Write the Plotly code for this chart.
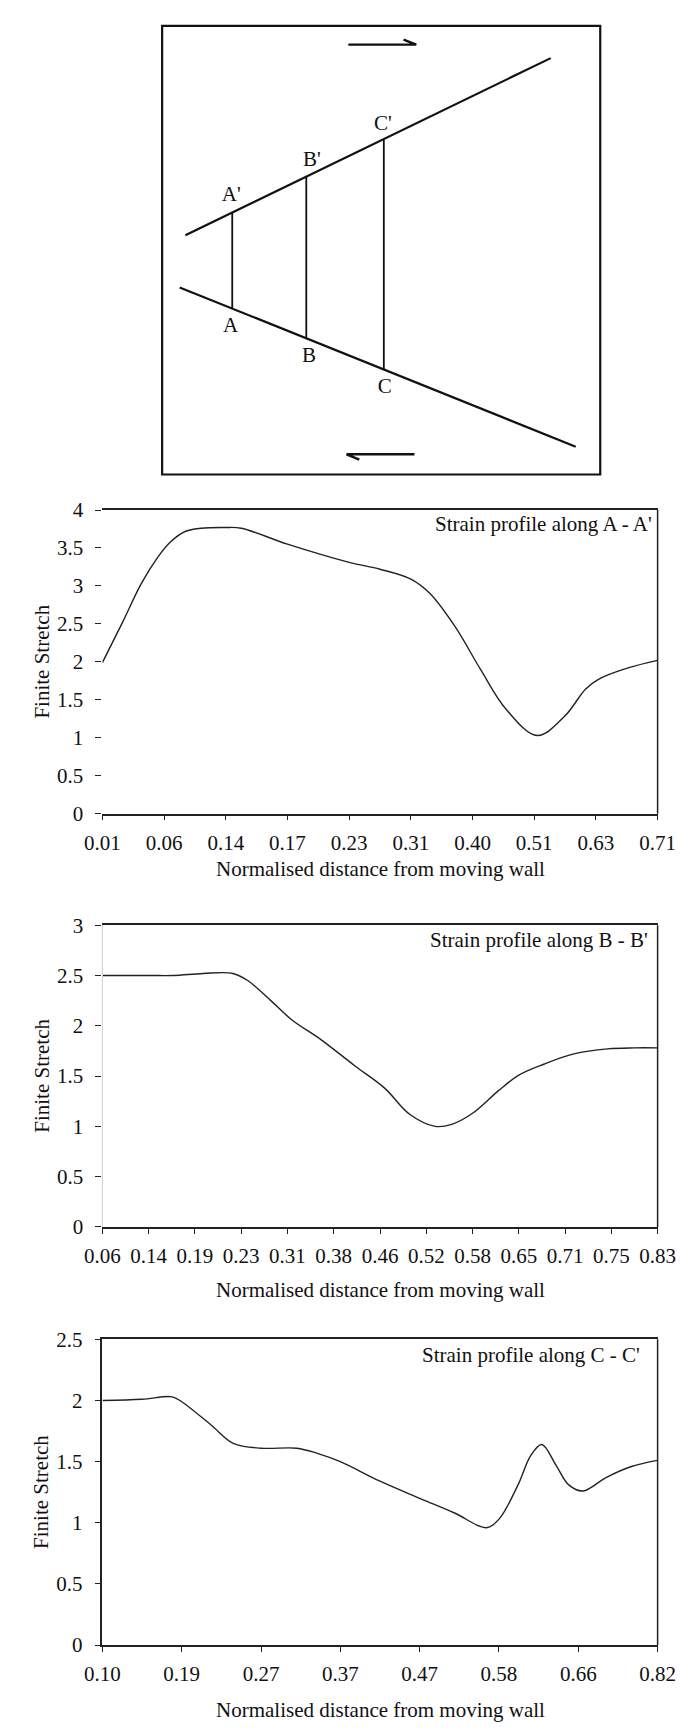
import plotly.graph_objects as go

W, H = 696, 1733
FONT = "Liberation Serif"
FS = 21

# ---------------- Schematic (normalised box units, origin bottom-left) ----------------
upper_u = [0.053, 0.887]
upper_v = [0.533, 0.928]
lower_u = [0.040, 0.944]
lower_v = [0.417, 0.062]
section_u = [0.160, 0.329, 0.506]
section_top_v = [0.584, 0.664, 0.746]
section_bot_v = [0.371, 0.305, 0.234]
label_text = ["A'", "B'", "C'", "A", "B", "C"]
label_u = [0.158, 0.342, 0.504, 0.156, 0.335, 0.508]
label_v = [0.622, 0.700, 0.780, 0.329, 0.263, 0.194]
arrow_top_u = [0.551, 0.580, 0.425]
arrow_top_v = [0.969, 0.958, 0.958]
arrow_bot_u = [0.450, 0.421, 0.576]
arrow_bot_v = [0.033, 0.045, 0.045]

# ---------------- Strain profile A - A' ----------------
a_ticklabels = ["0.01", "0.06", "0.14", "0.17", "0.23", "0.31", "0.40", "0.51", "0.63", "0.71"]
a_pos = [0, 0.32, 0.63, 0.89, 1.09, 1.35, 1.6, 2.0, 2.25, 3.0, 4.0, 4.5, 5.0, 5.31, 5.72,
         6.13, 6.54, 7.05, 7.5, 7.83, 8.04, 8.52, 9]
a_val = [1.99, 2.51, 3.03, 3.37, 3.57, 3.72, 3.76, 3.77, 3.76, 3.55, 3.31, 3.22, 3.09, 2.90, 2.46,
         1.90, 1.38, 1.03, 1.29, 1.64, 1.77, 1.92, 2.02]

# ---------------- Strain profile B - B' ----------------
b_ticklabels = ["0.06", "0.14", "0.19", "0.23", "0.31", "0.38", "0.46", "0.52", "0.58", "0.65",
                "0.71", "0.75", "0.83"]
b_pos = [0, 1, 1.54, 2.18, 2.82, 3.14, 3.64, 4.09, 4.73, 5.46, 6.1, 6.64, 7.19, 7.55, 8.0, 8.55,
         9.0, 9.55, 10.19, 10.92, 11.5, 12]
b_val = [2.5, 2.5, 2.5, 2.52, 2.52, 2.45, 2.25, 2.06, 1.86, 1.60, 1.38, 1.12, 1.00, 1.02, 1.13, 1.35,
         1.51, 1.62, 1.72, 1.77, 1.78, 1.78]

# ---------------- Strain profile C - C' ----------------
c_ticklabels = ["0.10", "0.19", "0.27", "0.37", "0.47", "0.58", "0.66", "0.82"]
c_pos = [0, 0.5, 0.88, 1.0, 1.37, 1.65, 2.0, 2.45, 2.7, 3.0, 3.5, 4.0, 4.44, 4.84, 5.0, 5.24,
         5.40, 5.54, 5.72, 5.88, 6.06, 6.35, 6.67, 7.0]
c_val = [2.00, 2.01, 2.03, 1.99, 1.80, 1.65, 1.61, 1.61, 1.57, 1.50, 1.34, 1.20, 1.08, 0.96, 1.03,
         1.31, 1.55, 1.64, 1.47, 1.31, 1.26, 1.37, 1.46, 1.51]

charts = [
    dict(labels=a_ticklabels, pos=a_pos, val=a_val, ymax=4, top=505, bottom=813,
         title="Strain profile along A - A'", title_y=519, title_x=671, xt_y=869, left="none"),
    dict(labels=b_ticklabels, pos=b_pos, val=b_val, ymax=3, top=926, bottom=1232,
         title="Strain profile along B - B'", title_y=941, title_x=666, xt_y=1296, left="grey"),
    dict(labels=c_ticklabels, pos=c_pos, val=c_val, ymax=2.5, top=1346, bottom=1656,
         title="Strain profile along C - C'", title_y=1362, title_x=658, xt_y=1722, left="black"),
]

PLOT_L, PLOT_R = 89, 674.5


def py(px):
    return 1 - px / H


fig = go.Figure()
layout = dict(
    width=W, height=H, autosize=False,
    margin=dict(l=0, r=0, t=0, b=0),
    paper_bgcolor="white", plot_bgcolor="white",
    showlegend=False,
    font=dict(family=FONT, size=FS, color="#111"),
)
shapes = []
annotations = []

for i, c in enumerate(charts):
    n = i + 1
    xa = "x" if n == 1 else f"x{n}"
    ya = "y" if n == 1 else f"y{n}"
    fig.add_trace(go.Scatter(
        x=c["pos"], y=c["val"], mode="lines", xaxis=xa, yaxis=ya,
        line=dict(color="#222", width=1.4, shape="spline", smoothing=1.0),
        hoverinfo="skip", cliponaxis=False,
    ))
    nlab = len(c["labels"])
    layout["xaxis" if n == 1 else f"xaxis{n}"] = dict(
        domain=[PLOT_L / W, PLOT_R / W], anchor=ya,
        range=[0, nlab - 1],
        tickmode="array", tickvals=list(range(nlab)), ticktext=c["labels"],
        ticks="outside", ticklen=5, tickcolor="#222", tickwidth=1.2,
        showline=True, mirror=True, linecolor="#222", linewidth=1.5,
        showgrid=False, zeroline=False,
        tickfont=dict(family=FONT, size=FS, color="#111"),
        ticklabelstandoff=4,
    )
    layout["yaxis" if n == 1 else f"yaxis{n}"] = dict(
        domain=[py(c["bottom"]), py(c["top"])], anchor=xa,
        range=[0, c["ymax"]], dtick=0.5, tick0=0,
        ticks="outside", ticklen=6, tickcolor="#222", tickwidth=1.2,
        showline=(c["left"] == "black"), linecolor="#222", linewidth=1.5,
        showgrid=False, zeroline=False,
        tickfont=dict(family=FONT, size=FS, color="#111"),
        ticklabelstandoff=8,
    )
    # right border
    shapes.append(dict(type="line", xref=f"{xa} domain", yref=f"{ya} domain",
                       x0=1, x1=1, y0=0, y1=1, line=dict(color="#222", width=1.5)))
    if c["left"] == "grey":
        shapes.append(dict(type="line", xref=f"{xa} domain", yref=f"{ya} domain",
                           x0=0, x1=0, y0=0, y1=1, line=dict(color="#cfcfcf", width=1)))
    annotations.append(dict(
        text=c["title"], xref="paper", yref="paper",
        x=c["title_x"] / W, y=py(c["title_y"]), xanchor="right", yanchor="middle",
        showarrow=False, font=dict(family=FONT, size=FS, color="#111")))
    annotations.append(dict(
        text="Normalised distance from moving wall", xref=f"{xa} domain", yref="paper",
        x=0.5, y=py(c["xt_y"]), xanchor="center", yanchor="middle",
        showarrow=False, font=dict(family=FONT, size=FS, color="#111")))
    annotations.append(dict(
        text="Finite Stretch", xref="paper", yref="paper", textangle=-90,
        x=25 / W, y=py((c["top"] + c["bottom"]) / 2), xanchor="center", yanchor="middle",
        showarrow=False, font=dict(family=FONT, size=FS, color="#111")))

# ---------------- Schematic panel ----------------
BOX_L, BOX_R, BOX_T, BOX_B = 152, 614, 14, 469
layout["xaxis4"] = dict(domain=[BOX_L / W, BOX_R / W], range=[0, 1], anchor="y4",
                        visible=False, fixedrange=True)
layout["yaxis4"] = dict(domain=[py(BOX_B), py(BOX_T)], range=[0, 1], anchor="x4",
                        visible=False, fixedrange=True)
shapes.append(dict(type="rect", xref="x4 domain", yref="y4 domain", x0=0, x1=1, y0=0, y1=1,
                   line=dict(color="#111", width=2.2)))

line_style = dict(color="#111", width=2.2)
fig.add_trace(go.Scatter(x=upper_u, y=upper_v, mode="lines", xaxis="x4", yaxis="y4",
                         line=line_style, hoverinfo="skip"))
fig.add_trace(go.Scatter(x=lower_u, y=lower_v, mode="lines", xaxis="x4", yaxis="y4",
                         line=line_style, hoverinfo="skip"))
sx, sy = [], []
for u, t, b in zip(section_u, section_top_v, section_bot_v):
    sx += [u, u, None]
    sy += [t, b, None]
fig.add_trace(go.Scatter(x=sx, y=sy, mode="lines", xaxis="x4", yaxis="y4",
                         line=dict(color="#111", width=1.8), hoverinfo="skip"))
fig.add_trace(go.Scatter(x=arrow_top_u, y=arrow_top_v, mode="lines", xaxis="x4", yaxis="y4",
                         line=dict(color="#111", width=2.4), hoverinfo="skip"))
fig.add_trace(go.Scatter(x=arrow_bot_u, y=arrow_bot_v, mode="lines", xaxis="x4", yaxis="y4",
                         line=dict(color="#111", width=2.4), hoverinfo="skip"))
fig.add_trace(go.Scatter(x=label_u, y=label_v, mode="text", text=label_text,
                         xaxis="x4", yaxis="y4", textposition="middle center",
                         textfont=dict(family=FONT, size=21, color="#111"), hoverinfo="skip"))

layout["shapes"] = shapes
layout["annotations"] = annotations
fig.update_layout(**layout)
fig.write_html("out.html")
